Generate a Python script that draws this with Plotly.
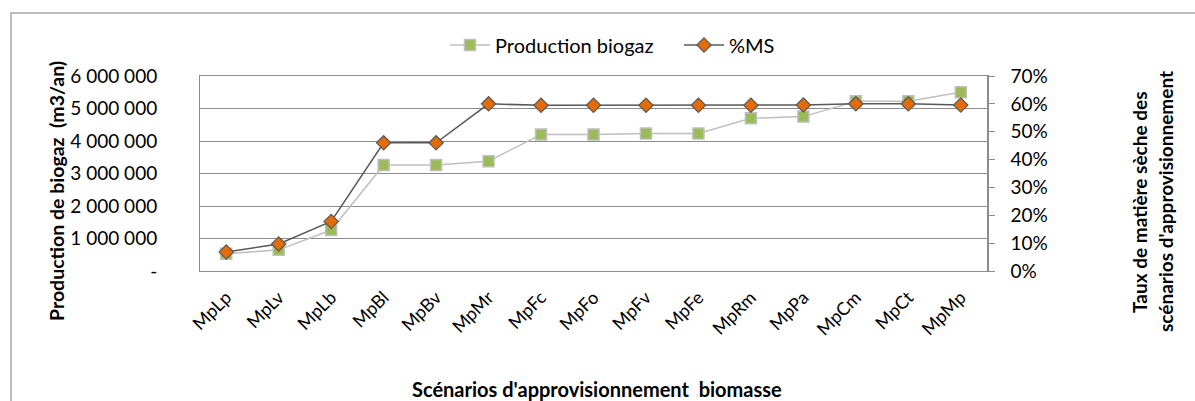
import plotly.graph_objects as go

# Scénarios d'approvisionnement
scenarios = ["MpLp", "MpLv", "MpLb", "MpBl", "MpBv", "MpMr", "MpFc", "MpFo",
             "MpFv", "MpFe", "MpRm", "MpPa", "MpCm", "MpCt", "MpMp"]

# Production de biogaz (m3/an)
production_biogaz = [530000, 650000, 1260000, 3260000, 3260000, 3380000, 4200000,
                     4200000, 4230000, 4230000, 4700000, 4750000, 5220000, 5220000,
                     5500000]

# Taux de matière sèche (%MS)
taux_ms = [0.068, 0.097, 0.178, 0.46, 0.46, 0.60, 0.595, 0.595, 0.595, 0.595,
           0.595, 0.596, 0.60, 0.60, 0.596]

left_tickvals = [0, 1000000, 2000000, 3000000, 4000000, 5000000, 6000000]
left_ticktext = ["-", "1 000 000", "2 000 000", "3 000 000", "4 000 000",
                 "5 000 000", "6 000 000"]

W, H = 1195, 401
L, R, T, B = 200, 208, 76, 130
PW, PH = W - L - R, H - T - B


def px(x):
    return (x - L) / PW


def py(y):
    return (H - B - y) / PH


FONT = "Lato, 'Open Sans', sans-serif"
GRID = "#8c8c8c"

fig = go.Figure()

fig.add_trace(go.Scatter(
    x=scenarios, y=production_biogaz, name="Production biogaz",
    mode="lines+markers",
    line=dict(color="#bfbfbf", width=1.5),
    marker=dict(symbol="square", size=11, color="#9bbb59",
                line=dict(color="#bfbfbf", width=1.5)),
    yaxis="y",
))

fig.add_trace(go.Scatter(
    x=scenarios, y=taux_ms, name="%MS",
    mode="lines+markers",
    line=dict(color="#595959", width=1.5),
    marker=dict(symbol="diamond", size=11, color="#e36c09",
                line=dict(color="#595959", width=1.2)),
    yaxis="y2",
))

fig.update_layout(
    width=W, height=H,
    margin=dict(l=L, r=R, t=T, b=B),
    paper_bgcolor="white", plot_bgcolor="white",
    font=dict(family=FONT, color="#000000"),
    showlegend=True,
    legend=dict(orientation="h", x=px(445), y=py(45), xanchor="left",
                yanchor="middle", font=dict(size=20), itemwidth=40,
                entrywidth=179, entrywidthmode="pixels",
                traceorder="normal", bgcolor="rgba(0,0,0,0)"),
    xaxis=dict(
        type="category", tickangle=-45, tickfont=dict(size=18),
        showgrid=False, showline=True, linecolor=GRID, linewidth=1,
        mirror=True, ticks="", range=[-0.5, len(scenarios) - 0.5],
        ticklabelstandoff=8,
    ),
    yaxis=dict(
        range=[0, 6000000], tickvals=left_tickvals, ticktext=left_ticktext,
        tickfont=dict(size=19), showgrid=True, gridcolor=GRID, gridwidth=1,
        showline=True, linecolor=GRID, linewidth=1, ticks="",
        zeroline=False, ticklabelstandoff=38,
    ),
    yaxis2=dict(
        range=[0, 0.7], dtick=0.1, tickformat=".0%", overlaying="y",
        side="right", tickfont=dict(size=19), showgrid=False,
        showline=True, linecolor=GRID, linewidth=1.5, ticks="outside",
        ticklen=6, tickcolor=GRID, zeroline=False, ticklabelstandoff=12,
    ),
    shapes=[dict(type="rect", xref="paper", yref="paper",
                 x0=px(11), x1=px(1230), y0=py(440), y1=py(13),
                 line=dict(color="#a6a6a6", width=1.5),
                 fillcolor="rgba(0,0,0,0)", layer="below")],
    annotations=[
        dict(text="<b>Production de biogaz  (m3/an)</b>", xref="paper",
             yref="paper", x=px(56), y=py(191), textangle=-90,
             showarrow=False, font=dict(size=19.5), xanchor="center",
             yanchor="middle"),
        dict(text="<b>Taux de matière sèche des</b>", xref="paper",
             yref="paper", x=px(1139), y=py(202), textangle=-90,
             showarrow=False, font=dict(size=19), xanchor="center",
             yanchor="middle"),
        dict(text="<b>scénarios d'approvisionnement</b>", xref="paper",
             yref="paper", x=px(1165), y=py(202), textangle=-90,
             showarrow=False, font=dict(size=19), xanchor="center",
             yanchor="middle"),
        dict(text="<b>Scénarios d'approvisionnement  biomasse</b>",
             xref="paper", yref="paper", x=px(597), y=py(389),
             showarrow=False, font=dict(size=20), xanchor="center",
             yanchor="middle"),
    ],
)

fig.write_html("out.html")
